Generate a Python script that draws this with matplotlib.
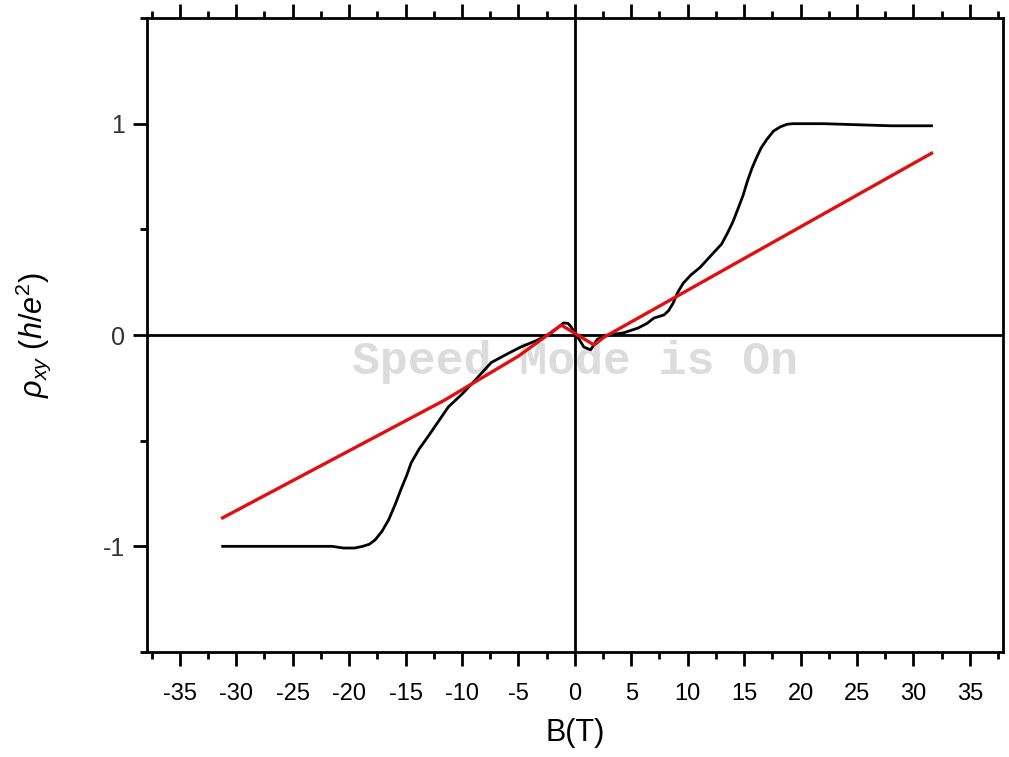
import numpy as np
import matplotlib.pyplot as plt
from matplotlib.ticker import MultipleLocator

plt.rcParams['font.family'] = ['Liberation Sans', 'DejaVu Sans']
plt.rcParams['mathtext.fontset'] = 'custom'
plt.rcParams['mathtext.it'] = 'Liberation Sans:italic'
plt.rcParams['mathtext.rm'] = 'Liberation Sans'
plt.rcParams['axes.unicode_minus'] = False

# Hall resistivity (black)
b_data = [-31.2, -28, -25, -23, -21.5, -20.5, -19.5, -18.8, -18.2, -17.7, -17.1,
          -16.5, -15.9, -15.4, -14.9, -14.5, -13.8, -13, -12.1, -11.2, -10,
          -9.2, -8.6, -7.4, -6, -4.8, -3.3, -2.1, -1.5, -1.0, -0.6, -0.35,
          0.26, 0.8, 1.4, 2.0, 2.9, 4.3, 5.6, 6.4, 7.0, 7.9, 8.3, 8.7, 9.1,
          9.6, 10.3, 11.1, 12.3, 13.0, 13.5, 14.0, 14.4, 14.9, 15.3, 15.7,
          16.1, 16.5, 17.0, 17.6, 18.2, 18.8, 19.3, 22, 25, 28, 31.6]
rho_data = [-1.0, -1.0, -1.0, -1.0, -1.0, -1.008, -1.008, -1.0, -0.99, -0.97,
            -0.93, -0.875, -0.8, -0.73, -0.665, -0.605, -0.54, -0.48, -0.41,
            -0.34, -0.28, -0.235, -0.2, -0.13, -0.09, -0.057, -0.024, 0.01,
            0.035, 0.057, 0.055, 0.04, -0.01, -0.057, -0.07, -0.02, 0.0, 0.01,
            0.033, 0.055, 0.08, 0.095, 0.115, 0.15, 0.2, 0.245, 0.285, 0.32,
            0.39, 0.43, 0.48, 0.535, 0.59, 0.66, 0.73, 0.79, 0.84, 0.885,
            0.925, 0.965, 0.985, 0.997, 1.0, 1.0, 0.995, 0.99, 0.99]

# linear fit (red)
b_fit = [-31.2, -11.6, -5.0, -1.2, 1.7, 2.6, 31.6]
rho_fit = [-0.865, -0.31, -0.1, 0.047, -0.047, -0.01, 0.86]

fig = plt.figure(figsize=(10.09, 7.57), dpi=100)
ax = fig.add_axes([0.1457, 0.1387, 0.848, 0.8375])

ax.axhline(0, color='black', lw=2, zorder=1)
ax.axvline(0, color='black', lw=2, zorder=1)

ax.plot(b_data, rho_data, color='black', lw=2, zorder=3)
ax.plot(b_fit, rho_fit, color='#e01010', lw=2.4, zorder=4)

ax.text(0, -0.13, 'Speed Mode is On', family='Liberation Mono', weight='bold',
        fontsize=33.5, color='#dcdcdc', ha='center', va='center', zorder=2)

ax.set_xlim(-37.9, 37.9)
ax.set_ylim(-1.5, 1.5)
ax.set_xticks(np.arange(-35, 36, 5))
ax.xaxis.set_minor_locator(MultipleLocator(2.5))
ax.set_yticks([-1, 0, 1])
ax.yaxis.set_minor_locator(MultipleLocator(0.5))

for s in ax.spines.values():
    s.set_linewidth(2)
ax.tick_params(which='both', direction='out', width=2, top=True, right=False)
ax.tick_params(which='major', length=10)
ax.tick_params(which='minor', length=5)
ax.tick_params(axis='x', pad=12, labelsize=17)
ax.tick_params(axis='y', pad=6, labelsize=18, labelcolor='#333333')

ax.set_xlabel('B(T)', fontsize=22, labelpad=10)
ax.set_ylabel(r'$\rho_{xy}\ (h/e^2)$', fontsize=22, labelpad=36)

fig.savefig('out.png', dpi=100)
